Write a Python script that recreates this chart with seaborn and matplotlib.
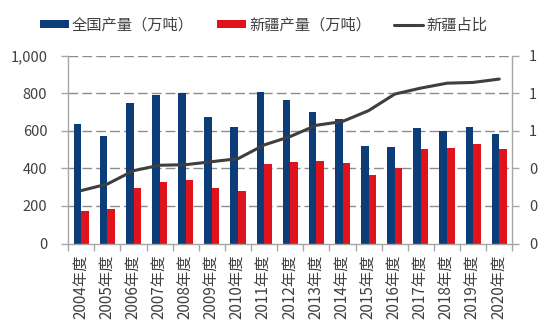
import numpy as np
import pandas as pd
import matplotlib
matplotlib.use("Agg")
import matplotlib.pyplot as plt
from matplotlib.ticker import FuncFormatter, FixedLocator
from matplotlib.lines import Line2D
from matplotlib.patches import Patch
import seaborn as sns

years = ["2004年度", "2005年度", "2006年度", "2007年度", "2008年度", "2009年度",
         "2010年度", "2011年度", "2012年度", "2013年度", "2014年度", "2015年度",
         "2016年度", "2017年度", "2018年度", "2019年度", "2020年度"]
national = [636, 572, 751, 790, 803, 676, 621, 806, 764, 701, 662, 520, 513, 614, 598, 620, 584]
xinjiang = [175, 184, 294, 330, 337, 294, 282, 422, 435, 440, 431, 364, 404, 502, 508, 529, 504]
share = [0.282, 0.317, 0.388, 0.417, 0.420, 0.436, 0.452, 0.525, 0.570, 0.630, 0.650,
         0.708, 0.796, 0.828, 0.854, 0.858, 0.876]

name_nat = "全国产量（万吨）"
name_xj = "新疆产量（万吨）"
name_share = "新疆占比"

BLUE = "#0d3d78"
RED = "#e0131d"
LINE = "#3f3f3f"
GRID = "#8c8c8c"
SPINE = "#a6a6a6"
TEXT = "#404040"

sns.set_theme(style="white")
plt.rcParams["font.family"] = ["Noto Sans CJK SC", "DejaVu Sans"]

df = pd.DataFrame({"year": years * 2,
                   "value": national + xinjiang,
                   "series": [name_nat] * len(years) + [name_xj] * len(years)})

fig = plt.figure(figsize=(5.5, 3.3), dpi=100)
ax = fig.add_axes([0.124, 0.262, 0.8075, 0.569])

sns.barplot(data=df, x="year", y="value", hue="series", order=years,
            hue_order=[name_nat, name_xj], palette=[BLUE, RED],
            width=0.58, gap=0, saturation=1, errorbar=None, legend=False,
            linewidth=0, edgecolor="none", ax=ax)

ax.set_ylim(0, 1000)
ax.set_xlim(-0.5, len(years) - 0.5)
ax.yaxis.set_major_locator(FixedLocator([0, 200, 400, 600, 800, 1000]))
ax.yaxis.set_major_formatter(FuncFormatter(lambda v, p: f"{v:,.0f}"))
ax.set_xlabel("")
ax.set_ylabel("")

for y in [200, 400, 600, 800, 1000]:
    ax.axhline(y, color=GRID, lw=1.0, dashes=(7, 3), zorder=0.5)

for side in ["top", "right"]:
    ax.spines[side].set_visible(False)
for side in ["left", "bottom"]:
    ax.spines[side].set_color(SPINE)
    ax.spines[side].set_linewidth(1.0)

ax.tick_params(axis="y", which="major", direction="out", length=5, width=1,
               color=SPINE, pad=10, labelsize=10.5, labelcolor=TEXT, left=True)
ax.tick_params(axis="x", which="major", length=0, pad=8, labelsize=11,
               labelcolor=TEXT, rotation=90, bottom=True)
ax.set_xticks(np.arange(-0.5, len(years), 1.0), minor=True)
ax.tick_params(axis="x", which="minor", direction="out", length=5, width=1,
               color=SPINE, bottom=True)

ax2 = ax.twinx()
sns.lineplot(x=np.arange(len(years)), y=share, color=LINE, lw=2.2, ax=ax2,
             legend=False)
ax2.set_ylim(0, 1.0)
ax2.set_xlim(-0.5, len(years) - 0.5)
ax2.yaxis.set_major_locator(FixedLocator([0, 0.2, 0.4, 0.6, 0.8, 1.0]))
ax2.yaxis.set_major_formatter(FuncFormatter(lambda v, p: f"{v:.0f}"))
for side in ["top", "left", "bottom"]:
    ax2.spines[side].set_visible(False)
ax2.spines["right"].set_color(SPINE)
ax2.spines["right"].set_linewidth(1.0)
ax2.tick_params(axis="y", direction="out", length=5, width=1, color=SPINE,
                pad=7, labelsize=10.5, labelcolor=TEXT, right=True)
ax2.grid(False)

handles = [Patch(facecolor=BLUE, edgecolor="none", linewidth=0),
           Patch(facecolor=RED, edgecolor="none", linewidth=0),
           Line2D([0], [0], color=LINE, lw=2.2)]
fig.legend(handles, [name_nat, name_xj, name_share], loc="center",
           bbox_to_anchor=(0.479, 1 - 25 / 330), ncol=3, frameon=False,
           fontsize=11, handlelength=1.9, handleheight=0.5,
           handletextpad=0.2, columnspacing=1.5, labelcolor=TEXT)

fig.savefig("out.png", dpi=100)
